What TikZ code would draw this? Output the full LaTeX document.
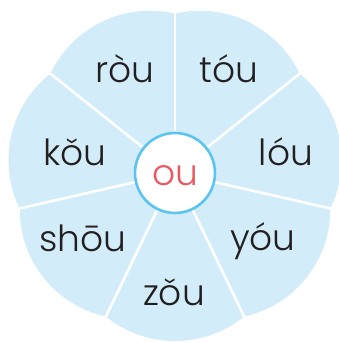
\documentclass[tikz,border=0pt]{standalone}
\usepackage{fontspec}
\setmainfont{Poppins}[UprightFont={* Light}]
\definecolor{petalblue}{RGB}{210,237,249}
\definecolor{ringblue}{RGB}{91,196,241}
\definecolor{syllred}{RGB}{236,88,98}
\definecolor{inkgray}{RGB}{35,31,32}
% o with caron, stacked by hand
\newcommand{\ocaron}{\ooalign{o\cr\hidewidth\char"02C7\hidewidth\cr}}
\tikzset{
  petal/.style={fill=petalblue},
  cut/.style={draw=white, line width=2.6pt},
  syll/.style={anchor=base, text=inkgray, font=\fontsize{36}{40}\selectfont, inner sep=0pt},
}
\begin{document}
\begin{tikzpicture}[x=1pt, y=1pt]
    \useasboundingbox (0,0) rectangle (338,343);

    \begin{scope}[shift={(175,170)}]
        % petals
        \fill[petal] (64.29:58pt) circle (110pt);
        \fill[petal] (12.86:58pt) circle (110pt);
        \fill[petal] (-38.57:58pt) circle (110pt);
        \fill[petal] (-90:58pt) circle (110pt);
        \fill[petal] (-141.43:58pt) circle (110pt);
        \fill[petal] (167.14:58pt) circle (110pt);
        \fill[petal] (115.71:58pt) circle (110pt);

        \coordinate (hub) at (0,0);
        \coordinate (n1) at (90:175pt);
        \coordinate (n2) at (38.57:175pt);
        \coordinate (n3) at (-12.86:175pt);
        \coordinate (n4) at (-64.29:175pt);
        \coordinate (n5) at (-115.71:175pt);
        \coordinate (n6) at (-167.14:175pt);
        \coordinate (n7) at (141.43:175pt);

        \draw[cut] (hub) -- (n1);
        \draw[cut] (hub) -- (n2);
        \draw[cut] (hub) -- (n3);
        \draw[cut] (hub) -- (n4);
        \draw[cut] (hub) -- (n5);
        \draw[cut] (hub) -- (n6);
        \draw[cut] (hub) -- (n7);
    \end{scope}

    \node[circle, minimum size=80pt, fill=white, draw=ringblue, line width=2.6pt] (centre) at (175,170) {};
    \node[syll, text=syllred] (ou) at (175,157) {ou};

    \node[syll] (rou) at (125,260) {ròu};
    \node[syll] (tou) at (229,260) {tóu};
    \node[syll] (kou) at (75,177) {k\ocaron u};
    \node[syll] (lou) at (286,177) {lóu};
    \node[syll] (shou) at (83,91) {shōu};
    \node[syll] (you) at (263,92) {yóu};
    \node[syll] (zou) at (174,37) {z\ocaron u};
\end{tikzpicture}
\end{document}
